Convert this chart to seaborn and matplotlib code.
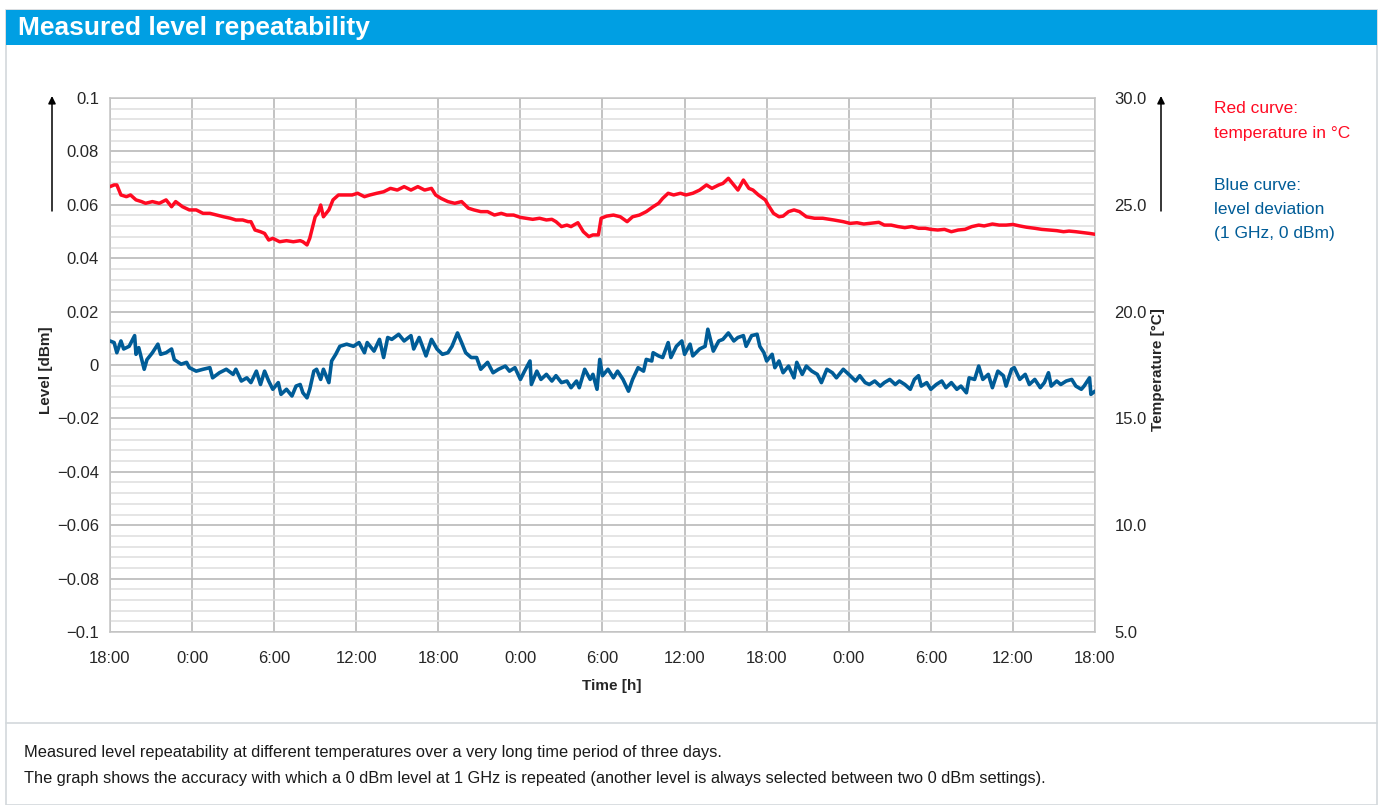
import matplotlib.pyplot as plt
import numpy as np
import pandas as pd
import seaborn as sns
from matplotlib.lines import Line2D
from matplotlib.patches import Rectangle
from matplotlib.ticker import MultipleLocator

# ---- data (time in hours after the first 18:00) ----
level_hours = [
    0.0, 0.3, 0.5, 0.8, 1.0, 1.4, 1.8, 1.9, 2.1, 2.5, 2.7, 3.1, 3.5, 3.7, 4.1, 4.5, 4.7, 5.2, 5.6, 5.8,
    6.3, 6.8, 7.3, 7.5, 8.0, 8.5, 9.0, 9.2, 9.6, 10.0, 10.3, 10.7, 11.0, 11.3, 11.6, 11.9, 12.3, 12.5, 12.9, 13.3,
    13.6, 13.9, 14.1, 14.4, 14.6, 14.9, 15.1, 15.4, 15.6, 16.0, 16.2, 16.5, 16.8, 17.3, 17.8, 18.2, 18.6, 18.8, 19.3, 19.7,
    20.0, 20.3, 20.6, 21.1, 21.5, 22.0, 22.2, 22.6, 23.1, 23.5, 23.9, 24.3, 24.7, 25.0, 25.4, 25.7, 26.0, 26.4, 26.8, 27.1,
    27.6, 28.0, 28.4, 28.9, 29.2, 29.6, 30.0, 30.3, 30.7, 30.8, 31.2, 31.5, 31.9, 32.3, 32.6, 33.0, 33.4, 33.7, 34.1, 34.3,
    34.7, 35.1, 35.3, 35.6, 35.8, 36.0, 36.4, 36.8, 37.1, 37.5, 37.9, 38.2, 38.6, 39.0, 39.2, 39.6, 39.7, 40.1, 40.4, 40.8,
    41.0, 41.4, 41.8, 42.0, 42.4, 42.6, 43.1, 43.5, 43.7, 44.1, 44.5, 44.8, 45.2, 45.6, 45.9, 46.3, 46.5, 46.9, 47.3, 47.5,
    47.8, 48.0, 48.4, 48.6, 48.9, 49.2, 49.6, 50.0, 50.2, 50.6, 50.9, 51.3, 51.7, 52.0, 52.4, 52.8, 53.1, 53.6, 54.0, 54.5,
    54.8, 55.2, 55.5, 55.9, 56.3, 56.6, 57.0, 57.4, 57.7, 58.1, 58.5, 58.8, 59.1, 59.3, 59.7, 60.0, 60.4, 60.8, 61.1, 61.5,
    61.9, 62.2, 62.6, 62.8, 63.2, 63.5, 63.8, 64.2, 64.5, 64.9, 65.3, 65.5, 65.9, 66.1, 66.5, 66.9, 67.2, 67.6, 68.0, 68.3,
    68.6, 68.8, 69.2, 69.5, 69.9, 70.3, 70.6, 71.0, 71.2, 71.6, 71.7, 72.0,
]
level_dbm = [
    0.0090, 0.0084, 0.0046, 0.0090, 0.0060, 0.0070, 0.0110, 0.0040, 0.0065, -0.0016, 0.0020, 0.0046, 0.0078, 0.0040, 0.0046, 0.0060, 0.0020, 0.0003, 0.0010, -0.0010,
    -0.0023, -0.0016, -0.0010, -0.0048, -0.0029, -0.0016, -0.0035, -0.0016, -0.0060, -0.0048, -0.0066, -0.0023, -0.0073, -0.0023, -0.0060, -0.0091, -0.0066, -0.0110, -0.0091, -0.0116,
    -0.0079, -0.0073, -0.0104, -0.0123, -0.0091, -0.0023, -0.0016, -0.0054, -0.0016, -0.0066, 0.0015, 0.0040, 0.0070, 0.0078, 0.0070, 0.0084, 0.0046, 0.0084, 0.0052, 0.0096,
    0.0028, 0.0103, 0.0096, 0.0115, 0.0090, 0.0110, 0.0060, 0.0103, 0.0034, 0.0096, 0.0060, 0.0040, 0.0046, 0.0070, 0.0120, 0.0084, 0.0046, 0.0028, 0.0028, -0.0016,
    0.0010, -0.0029, -0.0016, -0.0004, -0.0023, -0.0010, -0.0054, -0.0023, 0.0015, -0.0073, -0.0023, -0.0054, -0.0035, -0.0060, -0.0040, -0.0066, -0.0060, -0.0085, -0.0060, -0.0085,
    -0.0016, -0.0054, -0.0035, -0.0091, 0.0021, -0.0040, -0.0016, -0.0048, -0.0023, -0.0054, -0.0098, -0.0054, -0.0010, -0.0023, 0.0021, 0.0015, 0.0046, 0.0034, 0.0028, 0.0084,
    0.0028, 0.0070, 0.0090, 0.0040, 0.0078, 0.0034, 0.0060, 0.0070, 0.0134, 0.0052, 0.0090, 0.0096, 0.0120, 0.0090, 0.0103, 0.0110, 0.0070, 0.0110, 0.0115, 0.0070,
    0.0046, 0.0015, 0.0040, -0.0010, 0.0015, -0.0029, -0.0004, -0.0048, 0.0010, -0.0035, -0.0004, -0.0023, -0.0035, -0.0066, -0.0016, -0.0029, -0.0048, -0.0016, -0.0035, -0.0060,
    -0.0040, -0.0066, -0.0073, -0.0060, -0.0079, -0.0066, -0.0054, -0.0073, -0.0060, -0.0073, -0.0091, -0.0054, -0.0040, -0.0079, -0.0066, -0.0091, -0.0073, -0.0060, -0.0085, -0.0066,
    -0.0091, -0.0079, -0.0104, -0.0048, -0.0054, -0.0004, -0.0054, -0.0035, -0.0085, -0.0023, -0.0040, -0.0079, -0.0016, -0.0010, -0.0054, -0.0035, -0.0073, -0.0054, -0.0085, -0.0066,
    -0.0029, -0.0079, -0.0060, -0.0073, -0.0060, -0.0054, -0.0079, -0.0091, -0.0079, -0.0048, -0.0110, -0.0098,
]

temp_hours = [
    0.0, 0.3, 0.5, 0.8, 1.2, 1.5, 1.9, 2.3, 2.6, 3.1, 3.6, 4.1, 4.5, 4.8, 5.3, 5.8, 6.3, 6.8, 7.3, 7.8,
    8.3, 8.8, 9.2, 9.7, 10.1, 10.3, 10.6, 11.0, 11.3, 11.6, 11.9, 12.4, 12.9, 13.4, 13.9, 14.1, 14.4, 14.6, 15.0, 15.2,
    15.4, 15.6, 16.0, 16.3, 16.7, 17.2, 17.7, 18.1, 18.6, 19.0, 19.5, 20.0, 20.5, 21.0, 21.5, 22.0, 22.5, 23.0, 23.5, 23.8,
    24.2, 24.7, 25.2, 25.7, 26.2, 26.6, 27.1, 27.6, 28.1, 28.6, 29.0, 29.5, 30.0, 30.4, 30.9, 31.4, 31.9, 32.3, 32.6, 33.0,
    33.4, 33.7, 34.2, 34.6, 35.0, 35.3, 35.7, 35.9, 36.3, 36.8, 37.3, 37.8, 38.2, 38.7, 39.2, 39.7, 40.1, 40.4, 40.8, 41.2,
    41.7, 42.1, 42.6, 43.1, 43.6, 44.0, 44.5, 44.8, 45.2, 45.6, 45.9, 46.3, 46.7, 47.0, 47.4, 47.9, 48.1, 48.5, 48.9, 49.2,
    49.6, 50.0, 50.4, 50.9, 51.5, 52.1, 52.9, 53.6, 54.1, 54.6, 55.1, 55.5, 56.2, 56.6, 57.1, 57.6, 58.1, 58.6, 59.1, 59.6,
    60.0, 60.5, 61.0, 61.5, 62.0, 62.5, 63.0, 63.5, 63.9, 64.5, 65.0, 65.5, 66.0, 66.5, 67.0, 67.6, 68.1, 68.7, 69.2, 69.7,
    70.1, 70.6, 71.1, 71.6, 72.0,
]
temp_c = [
    25.85, 25.93, 25.93, 25.46, 25.38, 25.46, 25.23, 25.15, 25.07, 25.15, 25.07, 25.23, 24.91, 25.15, 24.91, 24.76, 24.76, 24.60, 24.60, 24.52,
    24.44, 24.37, 24.29, 24.29, 24.21, 24.21, 23.82, 23.74, 23.66, 23.35, 23.43, 23.27, 23.32, 23.27, 23.32, 23.27, 23.12, 23.43, 24.44, 24.60,
    24.99, 24.44, 24.76, 25.23, 25.46, 25.46, 25.46, 25.54, 25.38, 25.46, 25.54, 25.61, 25.77, 25.69, 25.85, 25.69, 25.85, 25.69, 25.77, 25.46,
    25.30, 25.15, 25.07, 25.15, 24.84, 24.76, 24.68, 24.68, 24.52, 24.60, 24.52, 24.52, 24.41, 24.37, 24.32, 24.37, 24.29, 24.32, 24.21, 23.98,
    24.05, 23.98, 24.16, 23.74, 23.51, 23.59, 23.59, 24.37, 24.47, 24.52, 24.44, 24.21, 24.44, 24.52, 24.68, 24.91, 25.07, 25.30, 25.54, 25.46,
    25.54, 25.46, 25.54, 25.69, 25.93, 25.77, 25.93, 26.00, 26.24, 25.93, 25.69, 26.16, 25.77, 25.69, 25.46, 25.23, 25.00, 24.60, 24.44, 24.47,
    24.68, 24.76, 24.68, 24.44, 24.37, 24.37, 24.29, 24.21, 24.13, 24.16, 24.10, 24.13, 24.18, 24.05, 24.05, 23.98, 23.93, 23.98, 23.90, 23.90,
    23.85, 23.82, 23.85, 23.74, 23.82, 23.85, 23.98, 24.05, 24.01, 24.10, 24.05, 24.05, 24.08, 24.01, 23.95, 23.90, 23.85, 23.82, 23.79, 23.74,
    23.77, 23.74, 23.70, 23.66, 23.62,
]

time_ticks = [0, 6, 12, 18, 24, 30, 36, 42, 48, 54, 60, 66, 72]
time_labels = ["18:00", "0:00", "6:00", "12:00", "18:00", "0:00", "6:00",
               "12:00", "18:00", "0:00", "6:00", "12:00", "18:00"]
level_ticks = [-0.1, -0.08, -0.06, -0.04, -0.02, 0, 0.02, 0.04, 0.06, 0.08, 0.1]
level_labels = ["\u22120.1", "\u22120.08", "\u22120.06", "\u22120.04", "\u22120.02", "0",
                "0.02", "0.04", "0.06", "0.08", "0.1"]
temp_ticks = [5, 10, 15, 20, 25, 30]
temp_labels = ["5.0", "10.0", "15.0", "20.0", "25.0", "30.0"]

RED = "#FF0A22"
BLUE = "#005C97"
BAR_BLUE = "#009FE3"
FRAME = "#D3D8DC"

sns.set_theme(style="white")
plt.rcParams["font.family"] = ["Liberation Sans", "DejaVu Sans"]

W, H = 1386, 805
fig = plt.figure(figsize=(W / 100, H / 100), dpi=100)


def fx(px):
    return px / W


def fy(py):
    return 1 - py / H


# panel frame, title bar and caption divider
fig.add_artist(Rectangle((fx(6), 0), fx(1377) - fx(6), fy(10), transform=fig.transFigure,
                         fill=False, edgecolor=FRAME, lw=1.2))
fig.add_artist(Rectangle((fx(6), fy(45)), fx(1377) - fx(6), 35 / H, transform=fig.transFigure,
                         facecolor=BAR_BLUE, edgecolor="none"))
fig.text(fx(18), fy(28), "Measured level repeatability", color="white", fontsize=19,
         fontweight="bold", va="center", ha="left")
fig.add_artist(Line2D([fx(6), fx(1377)], [fy(723), fy(723)], color=FRAME, lw=1.2))

# main axes (level)
ax = fig.add_axes([fx(110), fy(632), fx(1095) - fx(110), (632 - 98) / H])
lvl = pd.DataFrame({"hours": level_hours, "level": level_dbm})
sns.lineplot(data=lvl, x="hours", y="level", ax=ax, color=BLUE, lw=2.6,
             estimator=None, sort=False, zorder=3)
ax.set_xlim(0, 72)
ax.set_ylim(-0.1, 0.1)
ax.set_xticks(time_ticks)
ax.set_xticklabels(time_labels, fontsize=12)
ax.set_yticks(level_ticks)
ax.set_yticklabels(level_labels, fontsize=12)
ax.yaxis.set_minor_locator(MultipleLocator(0.004))
ax.grid(which="major", color="#B9B9B9", lw=1.2, zorder=1)
ax.grid(which="minor", axis="y", color="#DEDEDE", lw=1.1, zorder=0)
ax.set_axisbelow(True)
ax.tick_params(axis="x", length=6, width=1, color="#C8C8C8", pad=8)
ax.tick_params(axis="y", which="both", length=0, pad=8)
for sp in ax.spines.values():
    sp.set_color("#C4C4C4")
    sp.set_linewidth(1.1)
ax.set_xlabel("")
ax.set_ylabel("")

# twin axes (temperature)
ax2 = ax.twinx()
tmp = pd.DataFrame({"hours": temp_hours, "temp": temp_c})
sns.lineplot(data=tmp, x="hours", y="temp", ax=ax2, color=RED, lw=2.5,
             estimator=None, sort=False)
ax2.set_ylim(5, 30)
ax2.set_yticks(temp_ticks)
ax2.set_yticklabels(temp_labels, fontsize=12)
ax2.tick_params(axis="y", length=0, pad=14)
ax2.grid(False)
for sp in ax2.spines.values():
    sp.set_visible(False)
ax2.set_ylabel("")

# axis titles and arrows
fig.text(fx(46), fy(370), "Level [dBm]", rotation=90, fontsize=11, fontweight="bold",
         ha="center", va="center")
fig.text(fx(1158), fy(370), "Temperature [°C]", rotation=90, fontsize=11, fontweight="bold",
         ha="center", va="center")
fig.text(fx(612), fy(686), "Time [h]", fontsize=11, fontweight="bold", ha="center", va="center")
for xa in (52, 1161):
    fig.add_artist(plt.Annotation("", xy=(fx(xa), fy(96)), xytext=(fx(xa), fy(211)),
                                  xycoords="figure fraction", textcoords="figure fraction",
                                  arrowprops=dict(arrowstyle="-|>", color="black", lw=1.1,
                                                  mutation_scale=11, shrinkA=0, shrinkB=0)))

# curve key
for txt, yb, col in [("Red curve:", 113, RED), ("temperature in °C", 138, RED),
                     ("Blue curve:", 190, BLUE), ("level deviation", 214, BLUE),
                     ("(1 GHz, 0 dBm)", 238, BLUE)]:
    fig.text(fx(1214), fy(yb), txt, color=col, fontsize=12.5, ha="left", va="baseline")

# caption
fig.text(fx(24), fy(752),
         "Measured level repeatability at different temperatures over a very long time period of three days.",
         fontsize=11.8, color="#1A1A1A", ha="left", va="center")
fig.text(fx(24), fy(778),
         "The graph shows the accuracy with which a 0 dBm level at 1 GHz is repeated "
         "(another level is always selected between two 0 dBm settings).",
         fontsize=11.8, color="#1A1A1A", ha="left", va="center")

fig.savefig("out.png", dpi=100)
